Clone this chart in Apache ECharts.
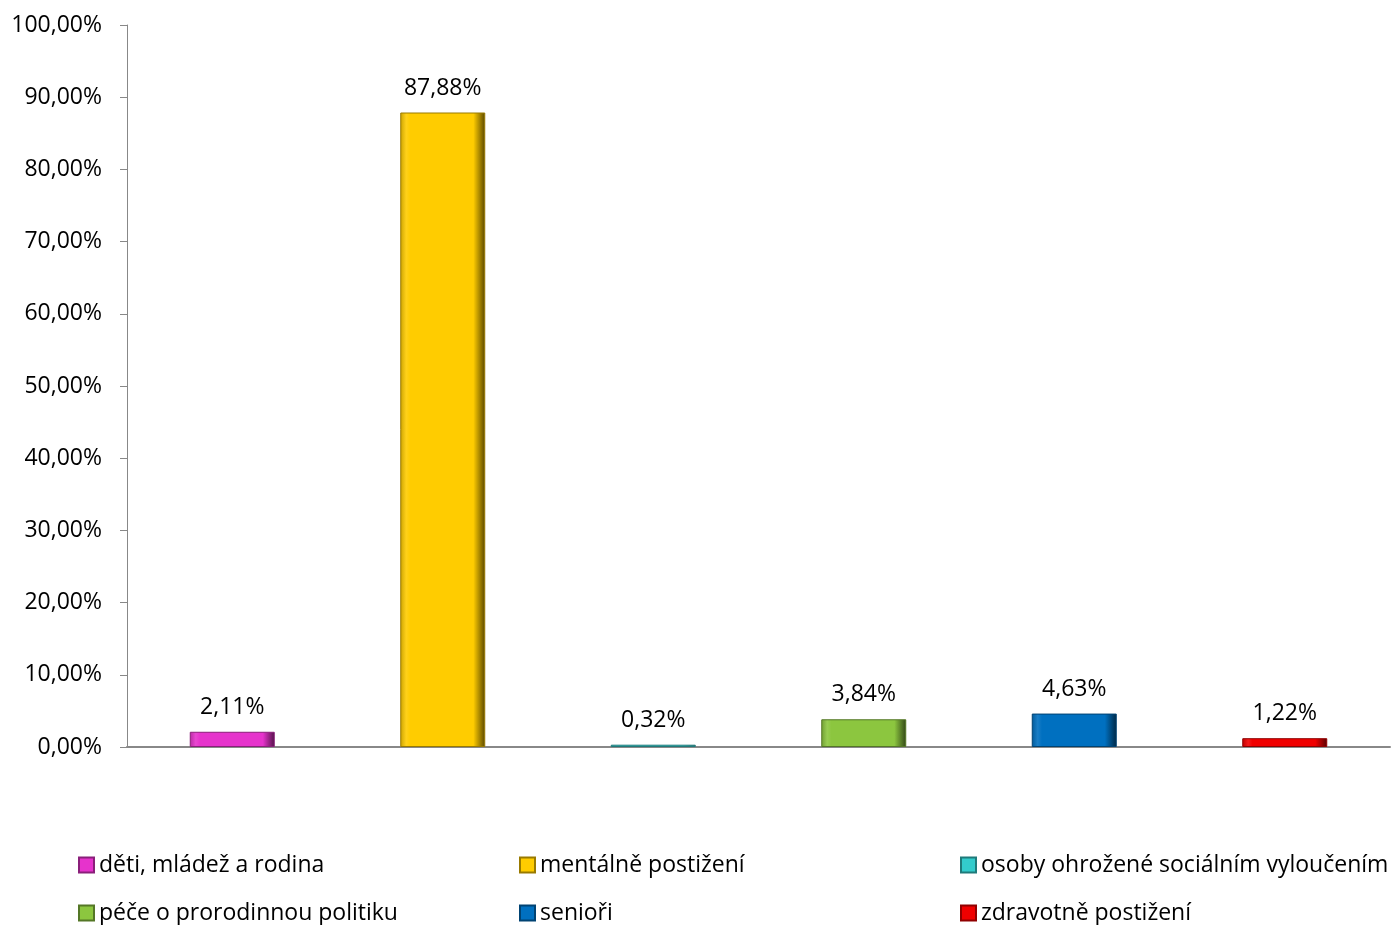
<!DOCTYPE html>
<html>
<head>
<meta charset="utf-8">
<script src="https://cdn.jsdelivr.net/npm/echarts@6/dist/echarts.min.js"></script>
<style>
  html, body { margin: 0; padding: 0; background: #fff; }
  #chart { width: 1393px; height: 925px; }
</style>
</head>
<body>
<div id="chart"></div>
<script>
  var categories = ['děti, mládež a rodina', 'mentálně postižení', 'osoby ohrožené sociálním vyloučením',
    'péče o prorodinnou politiku', 'senioři', 'zdravotně postižení'];
  var values = [2.11, 87.88, 0.32, 3.84, 4.63, 1.22];
  var colors = ['#e633cc', '#ffcc00', '#33cccc', '#8cc63f', '#0070c0', '#f00000'];
  var yTicks = { min: 0, max: 100, interval: 10 };

  function shade(hex, f) {
    var n = parseInt(hex.slice(1), 16);
    var r = (n >> 16) & 255, g = (n >> 8) & 255, b = n & 255;
    function c(v) { return Math.max(0, Math.min(255, Math.round(f < 0 ? v * (1 + f) : v + (255 - v) * f))); }
    return 'rgb(' + c(r) + ',' + c(g) + ',' + c(b) + ')';
  }

  function fmt(v) { return v.toFixed(2).replace('.', ',') + '%'; }

  var series = categories.map(function (name, i) {
    var base = colors[i];
    return {
      name: name,
      type: 'bar',
      stack: 'all',
      barWidth: 85,
      data: values.map(function (v, j) { return j === i ? v : '-'; }),
      itemStyle: {
        color: new echarts.graphic.LinearGradient(0, 0, 1, 0, [
          { offset: 0, color: shade(base, -0.2) },
          { offset: 0.07, color: shade(base, 0.1) },
          { offset: 0.12, color: base },
          { offset: 0.86, color: base },
          { offset: 1, color: shade(base, -0.65) }
        ]),
        borderColor: shade(base, -0.4),
        borderWidth: 1
      },
      label: {
        show: true,
        position: 'top',
        distance: 13,
        color: '#000',
        fontFamily: 'Open Sans',
        fontSize: 23,
        formatter: function (p) { return fmt(p.value); }
      }
    };
  });

  var legendStyle = { fontFamily: 'Open Sans', fontSize: 23, lineHeight: 24, color: '#000' };
  function legendCol(left, names) {
    return {
      orient: 'vertical',
      left: left,
      top: 853,
      padding: 0,
      itemWidth: 15,
      itemHeight: 15,
      itemGap: 24,
      icon: 'rect',
      textStyle: legendStyle,
      data: names
    };
  }

  var chart = echarts.init(document.getElementById('chart'));
  chart.setOption({
    animation: false,
    color: colors,
    grid: { left: 127, right: 3, top: 25, bottom: 178, containLabel: false },
    legend: [
      legendCol(78, [categories[0], categories[3]]),
      legendCol(519, [categories[1], categories[4]]),
      legendCol(960, [categories[2], categories[5]])
    ],
    xAxis: {
      type: 'category',
      data: categories,
      axisLine: { lineStyle: { color: '#888', width: 2 } },
      axisTick: { show: false },
      axisLabel: { show: false }
    },
    yAxis: {
      type: 'value',
      min: yTicks.min,
      max: yTicks.max,
      interval: yTicks.interval,
      axisLine: { show: true, lineStyle: { color: '#888', width: 1 } },
      axisTick: { show: true, length: 7, lineStyle: { color: '#888' } },
      splitLine: { show: false },
      axisLabel: {
        margin: 25,
        color: '#000',
        fontFamily: 'Open Sans',
        fontSize: 23,
        formatter: function (v) { return fmt(v); }
      }
    },
    series: series
  });
</script>
</body>
</html>
